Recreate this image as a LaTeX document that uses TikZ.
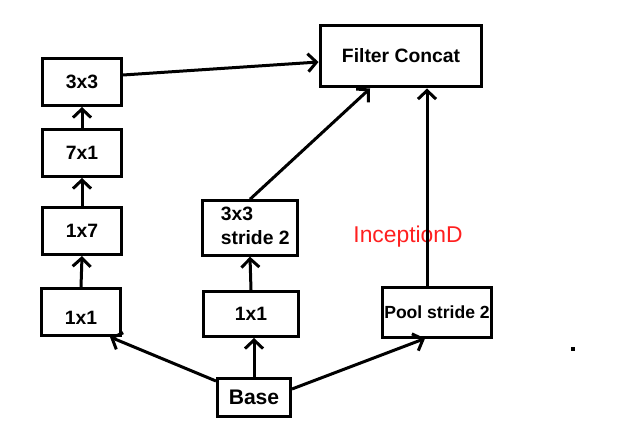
\documentclass[tikz,border=0pt]{standalone}
\usepackage{fontspec}
\setmainfont{Liberation Sans}
\usepackage{xcolor}
\usetikzlibrary{arrows.meta, positioning}
\definecolor{FigText}{HTML}{000000}
\definecolor{FigRed}{HTML}{FF2020}

\begin{document}
\begin{tikzpicture}[
x=0.02cm, y=-0.02cm,
font=\fontsize{11}{13}\selectfont\bfseries,
>={Straight Barb[length=0.17cm, width=0.36cm]},
line width=0.06cm,
layerbox/.style={
draw,
fill=white,
inner sep=2pt,
minimum width=1.58cm,
minimum height=0.94cm,
align=center
},
widebox/.style={
layerbox,
minimum width=1.9cm,
minimum height=0.9cm
},
every node/.style={text=FigText}
]
\useasboundingbox (0,0) rectangle (635,436);

% Left branch - four stacked convolutions
\node[layerbox] (c3x3) at (82,82) {3x3};
\node[layerbox] (c7x1) at (82,153) {7x1};
\node[layerbox] (c1x7) at (82,231) {1x7};
\node[layerbox] (c1x1a) at (81,312) {\raisebox{-7pt}[0pt][0pt]{1x1}};

% Middle branch
\node[widebox] (c3x3s) at (250,228) {%
\begin{tabular}{@{\hspace{6pt}}l@{}}3x3\\[1pt]stride 2\end{tabular}};
\node[widebox] (c1x1b) at (251,314) {1x1};

% Right branch
\node[layerbox, minimum width=2.12cm, minimum height=1.0cm, inner xsep=1pt,
font=\fontsize{10}{12}\selectfont\bfseries] (pool) at (437,312) {Pool stride 2};

% Input and output
\node[layerbox, minimum width=1.46cm, minimum height=0.76cm, font=\fontsize{12}{14}\selectfont\bfseries] (base) at (254,397) {Base};
\node[layerbox, minimum width=3.24cm, minimum height=1.24cm] (concat) at (401,56) {Filter Concat};

\node[text=FigRed, font=\fontsize{13}{15}\selectfont] (title) at (408,237) {InceptionD};
\fill (571,347) rectangle (575,351);

% Connectors
\draw[->] (c1x1a.north) -- (c1x7.south);
\draw[->] (c1x7.north) -- (c7x1.south);
\draw[->] (c7x1.north) -- (c3x3.south);
\draw[->] (c3x3.east |- 0,75) -- (concat.west |- 0,62);
\draw[->] (c1x1b.north) -- (c3x3s.south);
\draw[->] (c3x3s.north) -- (concat.south -| 370,0);
\draw[->] (pool.north -| 427,0) -- (concat.south -| 427,0);
\draw[->] (base.north) -- (c1x1b.south -| base.north);
\draw[->] (base.west |- 0,381) -- (c1x1a.south east -| 110,0);
\draw[->] (base.east |- 0,389) -- (pool.south -| 425,0);

\end{tikzpicture}
\end{document}
